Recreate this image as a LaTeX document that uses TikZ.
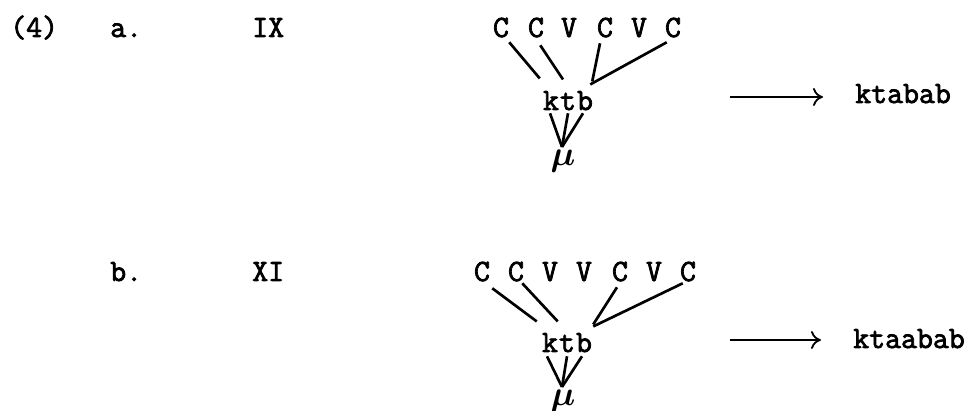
\documentclass[tikz,border=0pt]{standalone}
\usepackage{fontspec}
\newfontfamily\typer{Latin Modern Mono}[FakeBold=2.5]
\usetikzlibrary{arrows.meta}

\begin{document}
\begin{tikzpicture}[
    x=0.25mm, y=-0.25mm,
    seg/.style={font=\typer\fontsize{22}{25}\selectfont, inner sep=0pt, text height=13pt, text depth=0pt, anchor=base},
    tag/.style={seg, anchor=base west},
    melody/.style={inner sep=0pt, anchor=north, font=\fontsize{28}{32}\selectfont\boldmath},
    assoc/.style={line width=1.9pt},
    arrow/.style={line width=1.3pt, -{To[length=2.5mm,width=4.5mm]}}
]
    \useasboundingbox (0,0) rectangle (976,411);

    % (4a): template IX
    \node[tag] (a-num) at (10,37) {(4)};
    \node[tag] (a-lab) at (110,37) {a.};
    \node[tag] (a-tmpl) at (252,37) {IX};

    % CV skeleton
    \node[seg] (a-c1) at (501,37) {C};
    \node[seg] (a-c2) at (536,37) {C};
    \node[seg] (a-v3) at (569,37) {V};
    \node[seg] (a-c4) at (605,37) {C};
    \node[seg] (a-v5) at (639,37) {V};
    \node[seg] (a-c6) at (673,37) {C};

    % root and melody
    \node[seg] (a-k) at (551,110) {k};
    \node[seg] (a-t) at (568,110) {t};
    \node[seg] (a-b) at (585,110) {b};
    \node[melody] (a-mu) at (563,150) {$\mu$};

    % Associations
    \draw[assoc] ([shift={(0,5)}]a-c1.south east) -- ([shift={(-3,-13)}]a-k.north west);
    \draw[assoc] ([shift={(-4,8)}]a-c2.south east) -- ([shift={(-5,-12)}]a-t.north);
    \draw[assoc] ([shift={(-5,6)}]a-c4.south) -- ([shift={(-1,-10)}]a-b.north east);
    \draw[assoc] ([shift={(2,5)}]a-c6.south west) -- ([shift={(-3,-7)}]a-b.north east);
    \draw[assoc] ([shift={(-1,3)}]a-k.south) -- ([shift={(-1,-3)}]a-mu.north);
    \draw[assoc] ([shift={(0,3)}]a-t.south) -- ([shift={(-1,-3)}]a-mu.north);
    \draw[assoc] ([shift={(-2,3)}]a-b.south) -- ([shift={(-1,-3)}]a-mu.north);

    % Output
    \node[tag] (a-out) at (855,103) {ktabab};
    \coordinate (a-from) at (730,97);
    \draw[arrow, shorten >=8mm] (a-from) -- (a-from -| a-out.west);

    % (4b): template XI
    \node[tag] (b-lab) at (110,281) {b.};
    \node[tag] (b-tmpl) at (252,281) {XI};

    % CV skeleton
    \node[seg] (b-c1) at (482,281) {C};
    \node[seg] (b-c2) at (516,281) {C};
    \node[seg] (b-v3) at (550,281) {V};
    \node[seg] (b-v4) at (584,281) {V};
    \node[seg] (b-c5) at (620,281) {C};
    \node[seg] (b-v6) at (654,281) {V};
    \node[seg] (b-c7) at (688,281) {C};

    % root and melody
    \node[seg] (b-k) at (550,352) {k};
    \node[seg] (b-t) at (567,352) {t};
    \node[seg] (b-b) at (584,352) {b};
    \node[melody] (b-mu) at (563,390) {$\mu$};

    % Associations
    \draw[assoc] ([shift={(2,7)}]b-c1.south east) -- ([shift={(-5,-12)}]b-k.north west);
    \draw[assoc] ([shift={(-2,2)}]b-c2.south east) -- ([shift={(-1,-12)}]b-t.north west);
    \draw[assoc] ([shift={(-3,6)}]b-c5.south) -- ([shift={(1,-9)}]b-b.north east);
    \draw[assoc] ([shift={(3,2)}]b-c7.south west) -- ([shift={(1,-7)}]b-b.north east);
    \draw[assoc] ([shift={(-3,4)}]b-k.south) -- ([shift={(-1,-3)}]b-mu.north);
    \draw[assoc] ([shift={(0,4)}]b-t.south) -- ([shift={(-1,-3)}]b-mu.north);
    \draw[assoc] ([shift={(-2,4)}]b-b.south) -- ([shift={(-1,-3)}]b-mu.north);

    % Output
    \node[tag] (b-out) at (853,348) {ktaabab};
    \coordinate (b-from) at (730,340);
    \draw[arrow, shorten >=8mm] (b-from) -- (b-from -| b-out.west);
\end{tikzpicture}
\end{document}
